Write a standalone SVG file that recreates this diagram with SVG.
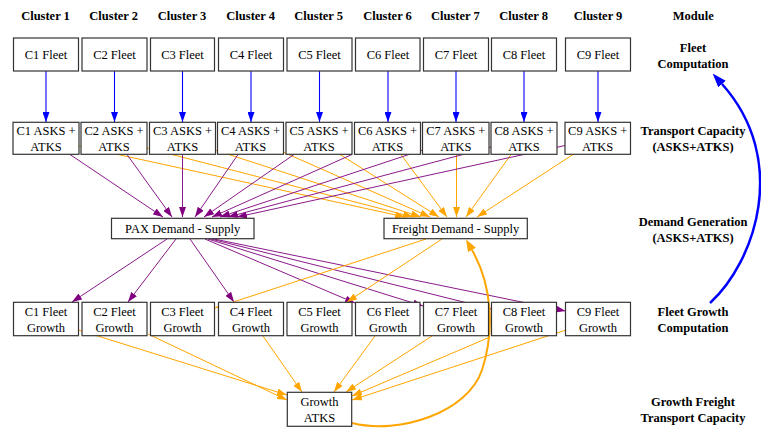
<svg xmlns="http://www.w3.org/2000/svg" width="761" height="429" viewBox="0 0 761 429">
<style>
  text { font-family: "Liberation Serif", "Times New Roman", serif; font-size: 12.5px; fill: #000; text-anchor: middle; }
  .h { font-weight: bold; }
  .box { fill: #fff; stroke: #333; stroke-width: 1.2; }
  .eb { stroke: #0000ff; stroke-width: 1.1; fill: none; marker-end: url(#ab); }
  .ep { stroke: #8a1a8a; stroke-width: 1; fill: none; marker-end: url(#ap); }
  .eo { stroke: #ffa500; stroke-width: 1; fill: none; marker-end: url(#ao); }
  .co { stroke: #ffa500; stroke-width: 2; fill: none; marker-end: url(#aO); }
  .cb { stroke: #0000ff; stroke-width: 2.5; fill: none; marker-end: url(#aB); }
</style>
<defs>
  <marker id="ab" viewBox="0 0 10 7" refX="10" refY="3.5" markerWidth="10" markerHeight="7" orient="auto" markerUnits="userSpaceOnUse"><path d="M0,0 L10,3.5 L0,7 z" fill="#0000ff"/></marker>
  <marker id="ap" viewBox="0 0 10 7" refX="10" refY="3.5" markerWidth="10" markerHeight="7" orient="auto" markerUnits="userSpaceOnUse"><path d="M0,0 L10,3.5 L0,7 z" fill="#800080"/></marker>
  <marker id="ao" viewBox="0 0 10 7" refX="10" refY="3.5" markerWidth="10" markerHeight="7" orient="auto" markerUnits="userSpaceOnUse"><path d="M0,0 L10,3.5 L0,7 z" fill="#ffa500"/></marker>
  <marker id="aO" viewBox="0 0 12 9" refX="0" refY="4.5" markerWidth="12" markerHeight="9" orient="auto" markerUnits="userSpaceOnUse"><path d="M0,0 L12,4.5 L0,9 z" fill="#ffa500"/></marker>
  <marker id="aB" viewBox="0 0 14 10" refX="0" refY="5" markerWidth="14" markerHeight="10" orient="auto" markerUnits="userSpaceOnUse"><path d="M0,0 L14,5 L0,10 z" fill="#0000ff"/></marker>
</defs>

<g id="labels">
  <text class="h" x="45.5" y="20">Cluster 1</text>
  <text class="h" x="113.7" y="20">Cluster 2</text>
  <text class="h" x="182" y="20">Cluster 3</text>
  <text class="h" x="250.7" y="20">Cluster 4</text>
  <text class="h" x="318.7" y="20">Cluster 5</text>
  <text class="h" x="387.5" y="20">Cluster 6</text>
  <text class="h" x="455.3" y="20">Cluster 7</text>
  <text class="h" x="523.7" y="20">Cluster 8</text>
  <text class="h" x="598" y="20">Cluster 9</text>
  <text class="h" x="693.3" y="20">Module</text>
  <text class="h" x="693" y="51.5">Fleet</text>
  <text class="h" x="693" y="67.5">Computation</text>
  <text class="h" x="693" y="135">Transport Capacity</text>
  <text class="h" x="693" y="150.5">(ASKS+ATKS)</text>
  <text class="h" x="693" y="225.5">Demand Generation</text>
  <text class="h" x="693" y="242">(ASKS+ATKS)</text>
  <text class="h" x="693" y="316">Fleet Growth</text>
  <text class="h" x="693" y="332">Computation</text>
  <text class="h" x="693" y="406">Growth Freight</text>
  <text class="h" x="693" y="422">Transport Capacity</text>
</g>

<g id="connectors">
  <!-- fleet -> asks -->
  <line class="eb" x1="46" y1="71" x2="46" y2="122"/>
  <line class="eb" x1="114.5" y1="71" x2="114.5" y2="122"/>
  <line class="eb" x1="182.5" y1="71" x2="182.5" y2="122"/>
  <line class="eb" x1="251" y1="71" x2="251" y2="122"/>
  <line class="eb" x1="319.5" y1="71" x2="319.5" y2="122"/>
  <line class="eb" x1="388" y1="71" x2="388" y2="122"/>
  <line class="eb" x1="456" y1="71" x2="456" y2="122"/>
  <line class="eb" x1="524" y1="71" x2="524" y2="122"/>
  <line class="eb" x1="598" y1="71" x2="598" y2="122"/>
  <!-- asks -> freight (orange) -->
  <line class="eo" x1="79" y1="146" x2="405" y2="217"/>
  <line class="eo" x1="147" y1="148" x2="413" y2="217"/>
  <line class="eo" x1="215" y1="150" x2="421" y2="217"/>
  <line class="eo" x1="283" y1="152" x2="430" y2="217"/>
  <line class="eo" x1="340" y1="154.5" x2="439" y2="217"/>
  <line class="eo" x1="401" y1="154.5" x2="447" y2="217"/>
  <line class="eo" x1="456.5" y1="154.5" x2="456.5" y2="217"/>
  <line class="eo" x1="511" y1="154.5" x2="466" y2="217"/>
  <line class="eo" x1="573" y1="154.5" x2="477" y2="217"/>
  <!-- asks -> pax (purple) -->
  <line class="ep" x1="70" y1="154.5" x2="163" y2="217"/>
  <line class="ep" x1="127" y1="154.5" x2="172" y2="217"/>
  <line class="ep" x1="182.5" y1="154.5" x2="182.5" y2="217"/>
  <line class="ep" x1="238" y1="154.5" x2="195" y2="217"/>
  <line class="ep" x1="294" y1="154.5" x2="204" y2="217"/>
  <line class="ep" x1="352" y1="154.5" x2="212" y2="217"/>
  <line class="ep" x1="422.5" y1="150" x2="220" y2="217"/>
  <line class="ep" x1="491" y1="147" x2="228" y2="217"/>
  <line class="ep" x1="565" y1="145.5" x2="237" y2="217"/>
  <!-- pax -> growth (purple) -->
  <line class="ep" x1="167" y1="239" x2="72" y2="302"/>
  <line class="ep" x1="176" y1="239" x2="128" y2="302"/>
  <line class="ep" x1="190" y1="239" x2="234" y2="302"/>
  <line class="ep" x1="205" y1="239" x2="355" y2="303"/>
  <line class="ep" x1="208" y1="239" x2="423" y2="306"/>
  <line class="ep" x1="211" y1="239" x2="491.5" y2="309"/>
  <line class="ep" x1="214" y1="239" x2="565.5" y2="311"/>
  <!-- freight -> growth (orange) -->
  <line class="eo" x1="426" y1="239" x2="215" y2="308"/>
  <line class="eo" x1="442" y1="239" x2="347" y2="302"/>
  <!-- growth -> growth atks (orange) -->
  <line class="eo" x1="78.5" y1="330" x2="287" y2="395"/>
  <line class="eo" x1="148" y1="334" x2="287" y2="400"/>
  <line class="eo" x1="263" y1="336" x2="302" y2="392"/>
  <line class="eo" x1="375" y1="336" x2="334" y2="392"/>
  <line class="eo" x1="432" y1="336" x2="346" y2="392"/>
  <line class="eo" x1="490" y1="337" x2="352" y2="396"/>
  <line class="eo" x1="566" y1="330" x2="352" y2="400"/>
  <!-- curves -->
  <path class="co" d="M352,423 C400,435 468,412 482,370 C495,330 492,285 472,250"/>
  <path class="cb" d="M710,303 C755,262 790,160 722,84"/>
</g>

<g id="fleet">
  <g id="f1"><rect class="box" x="13.5" y="38" width="65" height="33"/><text x="46" y="58.5">C1 Fleet</text></g>
  <g id="f2"><rect class="box" x="82" y="38" width="65" height="33"/><text x="114.5" y="58.5">C2 Fleet</text></g>
  <g id="f3"><rect class="box" x="150.5" y="38" width="64" height="33"/><text x="182.5" y="58.5">C3 Fleet</text></g>
  <g id="f4"><rect class="box" x="218.5" y="38" width="65" height="33"/><text x="251" y="58.5">C4 Fleet</text></g>
  <g id="f5"><rect class="box" x="287" y="38" width="65" height="33"/><text x="319.5" y="58.5">C5 Fleet</text></g>
  <g id="f6"><rect class="box" x="355.5" y="38" width="64.5" height="33"/><text x="388" y="58.5">C6 Fleet</text></g>
  <g id="f7"><rect class="box" x="423.5" y="38" width="65" height="33"/><text x="456" y="58.5">C7 Fleet</text></g>
  <g id="f8"><rect class="box" x="491.5" y="38" width="65" height="33"/><text x="524" y="58.5">C8 Fleet</text></g>
  <g id="f9"><rect class="box" x="565.5" y="38" width="65" height="33"/><text x="598" y="58.5">C9 Fleet</text></g>
</g>

<g id="asks">
  <g id="a1"><rect class="box" x="13" y="122.3" width="66" height="32"/><text x="46" y="135">C1 ASKS +</text><text x="46" y="150.5">ATKS</text></g>
  <g id="a2"><rect class="box" x="81" y="122.3" width="66" height="32"/><text x="114" y="135">C2 ASKS +</text><text x="114" y="150.5">ATKS</text></g>
  <g id="a3"><rect class="box" x="149.5" y="122.3" width="66" height="32"/><text x="182.5" y="135">C3 ASKS +</text><text x="182.5" y="150.5">ATKS</text></g>
  <g id="a4"><rect class="box" x="217.5" y="122.3" width="66" height="32"/><text x="250.5" y="135">C4 ASKS +</text><text x="250.5" y="150.5">ATKS</text></g>
  <g id="a5"><rect class="box" x="286" y="122.3" width="66" height="32"/><text x="319" y="135">C5 ASKS +</text><text x="319" y="150.5">ATKS</text></g>
  <g id="a6"><rect class="box" x="354.5" y="122.3" width="66" height="32"/><text x="387.5" y="135">C6 ASKS +</text><text x="387.5" y="150.5">ATKS</text></g>
  <g id="a7"><rect class="box" x="422.5" y="122.3" width="66.5" height="32"/><text x="455.8" y="135">C7 ASKS +</text><text x="455.8" y="150.5">ATKS</text></g>
  <g id="a8"><rect class="box" x="491" y="122.3" width="66" height="32"/><text x="524" y="135">C8 ASKS +</text><text x="524" y="150.5">ATKS</text></g>
  <g id="a9"><rect class="box" x="565" y="122.3" width="65.5" height="32"/><text x="597.7" y="135">C9 ASKS +</text><text x="597.7" y="150.5">ATKS</text></g>
</g>

<g id="demand">
  <g id="pax"><rect class="box" x="111.5" y="218.3" width="142.5" height="20.4"/><text x="182.7" y="233">PAX Demand - Supply</text></g>
  <g id="freight"><rect class="box" x="384" y="218.3" width="143.3" height="20.4"/><text x="455.6" y="233">Freight Demand - Supply</text></g>
</g>

<g id="growth">
  <g id="g1"><rect class="box" x="13.5" y="302.3" width="65" height="33.4"/><text x="46" y="316">C1 Fleet</text><text x="46" y="332">Growth</text></g>
  <g id="g2"><rect class="box" x="82" y="302.3" width="65" height="33.4"/><text x="114.5" y="316">C2 Fleet</text><text x="114.5" y="332">Growth</text></g>
  <g id="g3"><rect class="box" x="150.5" y="302.3" width="64" height="33.4"/><text x="182.5" y="316">C3 Fleet</text><text x="182.5" y="332">Growth</text></g>
  <g id="g4"><rect class="box" x="218.5" y="302.3" width="65" height="33.4"/><text x="251" y="316">C4 Fleet</text><text x="251" y="332">Growth</text></g>
  <g id="g5"><rect class="box" x="287" y="302.3" width="65" height="33.4"/><text x="319.5" y="316">C5 Fleet</text><text x="319.5" y="332">Growth</text></g>
  <g id="g6"><rect class="box" x="355.5" y="302.3" width="64.5" height="33.4"/><text x="388" y="316">C6 Fleet</text><text x="388" y="332">Growth</text></g>
  <g id="g7"><rect class="box" x="423.5" y="302.3" width="65" height="33.4"/><text x="456" y="316">C7 Fleet</text><text x="456" y="332">Growth</text></g>
  <g id="g8"><rect class="box" x="491.5" y="302.3" width="65" height="33.4"/><text x="524" y="316">C8 Fleet</text><text x="524" y="332">Growth</text></g>
  <g id="g9"><rect class="box" x="565.5" y="302.3" width="65" height="33.4"/><text x="598" y="316">C9 Fleet</text><text x="598" y="332">Growth</text></g>
</g>

<g id="gatks"><rect class="box" x="287.3" y="392.3" width="64.4" height="34"/><text x="319.5" y="406">Growth</text><text x="319.5" y="422">ATKS</text></g>
</svg>
